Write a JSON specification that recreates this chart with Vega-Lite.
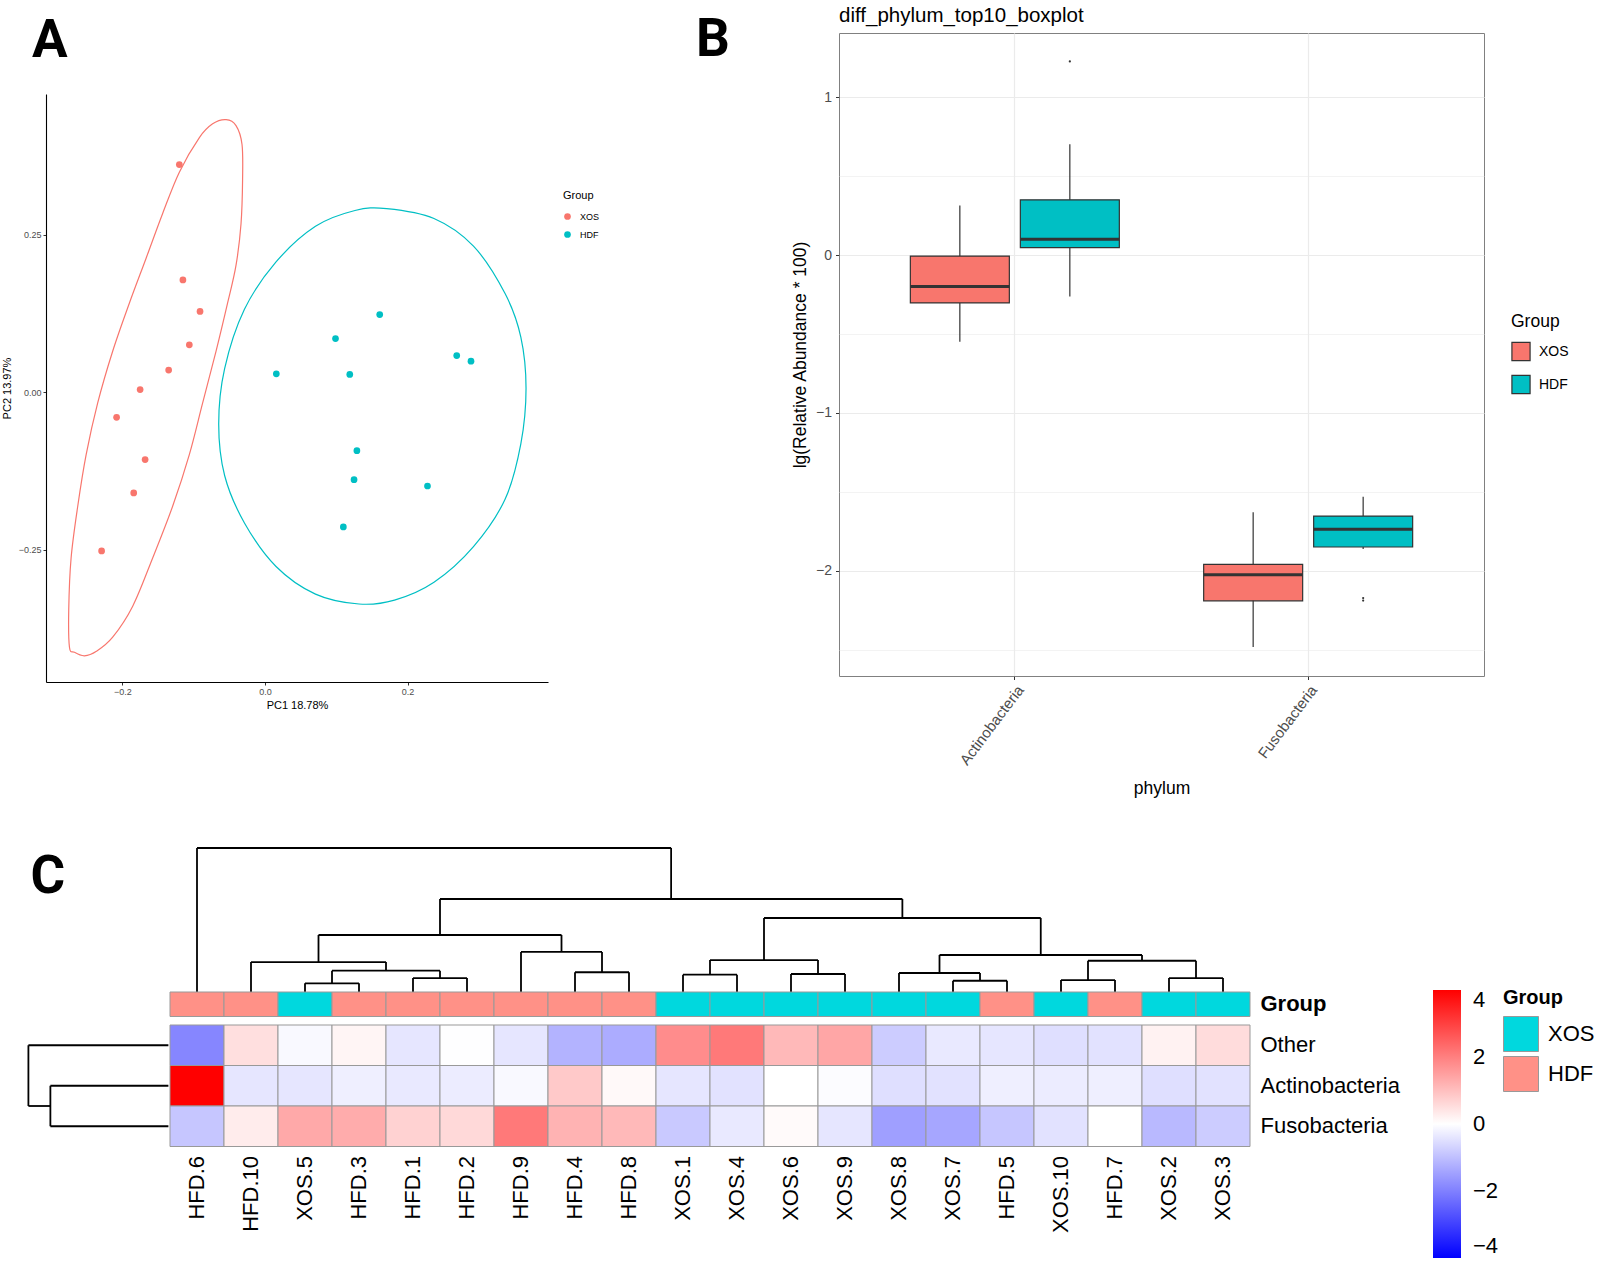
{
  "$schema": "https://vega.github.io/schema/vega-lite/v6.json",
  "background": "white",
  "padding": {"left": 1, "top": 5, "right": 0, "bottom": 0},
  "config": {"font": "Liberation Sans", "view": {"stroke": null}},
  "datasets": {
    "pcaPoints": [
      {"group": "XOS", "pc1": -0.120, "pc2": 0.361},
      {"group": "XOS", "pc1": -0.115, "pc2": 0.178},
      {"group": "XOS", "pc1": -0.091, "pc2": 0.128},
      {"group": "XOS", "pc1": -0.106, "pc2": 0.075},
      {"group": "XOS", "pc1": -0.135, "pc2": 0.035},
      {"group": "XOS", "pc1": -0.175, "pc2": 0.004},
      {"group": "XOS", "pc1": -0.208, "pc2": -0.040},
      {"group": "XOS", "pc1": -0.168, "pc2": -0.107},
      {"group": "XOS", "pc1": -0.184, "pc2": -0.160},
      {"group": "XOS", "pc1": -0.229, "pc2": -0.252},
      {"group": "HDF", "pc1": 0.161, "pc2": 0.123},
      {"group": "HDF", "pc1": 0.099, "pc2": 0.085},
      {"group": "HDF", "pc1": 0.016, "pc2": 0.029},
      {"group": "HDF", "pc1": 0.119, "pc2": 0.028},
      {"group": "HDF", "pc1": 0.269, "pc2": 0.058},
      {"group": "HDF", "pc1": 0.289, "pc2": 0.049},
      {"group": "HDF", "pc1": 0.129, "pc2": -0.093},
      {"group": "HDF", "pc1": 0.125, "pc2": -0.139},
      {"group": "HDF", "pc1": 0.228, "pc2": -0.149},
      {"group": "HDF", "pc1": 0.110, "pc2": -0.214}
    ],
    "ellipses": [
      {"group": "XOS", "k": 1, "pc1": -0.0545, "pc2": 0.4322},
      {"group": "XOS", "k": 2, "pc1": -0.0405, "pc2": 0.4229},
      {"group": "XOS", "k": 3, "pc1": -0.0321, "pc2": 0.3929},
      {"group": "XOS", "k": 4, "pc1": -0.0313, "pc2": 0.3381},
      {"group": "XOS", "k": 5, "pc1": -0.0335, "pc2": 0.2671},
      {"group": "XOS", "k": 6, "pc1": -0.0405, "pc2": 0.2014},
      {"group": "XOS", "k": 7, "pc1": -0.0523, "pc2": 0.1414},
      {"group": "XOS", "k": 8, "pc1": -0.0685, "pc2": 0.0649},
      {"group": "XOS", "k": 9, "pc1": -0.0873, "pc2": -0.0171},
      {"group": "XOS", "k": 10, "pc1": -0.1060, "pc2": -0.0992},
      {"group": "XOS", "k": 11, "pc1": -0.1294, "pc2": -0.1811},
      {"group": "XOS", "k": 12, "pc1": -0.1574, "pc2": -0.2632},
      {"group": "XOS", "k": 13, "pc1": -0.1854, "pc2": -0.3397},
      {"group": "XOS", "k": 14, "pc1": -0.2135, "pc2": -0.3889},
      {"group": "XOS", "k": 15, "pc1": -0.2363, "pc2": -0.4113},
      {"group": "XOS", "k": 16, "pc1": -0.2531, "pc2": -0.4184},
      {"group": "XOS", "k": 17, "pc1": -0.2671, "pc2": -0.4129},
      {"group": "XOS", "k": 18, "pc1": -0.2741, "pc2": -0.4048},
      {"group": "XOS", "k": 19, "pc1": -0.2751, "pc2": -0.3451},
      {"group": "XOS", "k": 20, "pc1": -0.2718, "pc2": -0.2632},
      {"group": "XOS", "k": 21, "pc1": -0.2625, "pc2": -0.1811},
      {"group": "XOS", "k": 22, "pc1": -0.2507, "pc2": -0.0992},
      {"group": "XOS", "k": 23, "pc1": -0.2345, "pc2": -0.0171},
      {"group": "XOS", "k": 24, "pc1": -0.2135, "pc2": 0.0649},
      {"group": "XOS", "k": 25, "pc1": -0.1900, "pc2": 0.1414},
      {"group": "XOS", "k": 26, "pc1": -0.1666, "pc2": 0.2125},
      {"group": "XOS", "k": 27, "pc1": -0.1434, "pc2": 0.2835},
      {"group": "XOS", "k": 28, "pc1": -0.1200, "pc2": 0.3490},
      {"group": "XOS", "k": 29, "pc1": -0.0919, "pc2": 0.4038},
      {"group": "XOS", "k": 30, "pc1": -0.0733, "pc2": 0.4256},
      {"group": "HDF", "k": 1, "pc1": 0.1707, "pc2": 0.2912},
      {"group": "HDF", "k": 2, "pc1": 0.2371, "pc2": 0.2755},
      {"group": "HDF", "k": 3, "pc1": 0.2925, "pc2": 0.2316},
      {"group": "HDF", "k": 4, "pc1": 0.3368, "pc2": 0.1563},
      {"group": "HDF", "k": 5, "pc1": 0.3589, "pc2": 0.0873},
      {"group": "HDF", "k": 6, "pc1": 0.3662, "pc2": 0.0057},
      {"group": "HDF", "k": 7, "pc1": 0.3589, "pc2": -0.0821},
      {"group": "HDF", "k": 8, "pc1": 0.3368, "pc2": -0.1700},
      {"group": "HDF", "k": 9, "pc1": 0.2925, "pc2": -0.2452},
      {"group": "HDF", "k": 10, "pc1": 0.2371, "pc2": -0.3017},
      {"group": "HDF", "k": 11, "pc1": 0.1818, "pc2": -0.3300},
      {"group": "HDF", "k": 12, "pc1": 0.1319, "pc2": -0.3362},
      {"group": "HDF", "k": 13, "pc1": 0.0709, "pc2": -0.3205},
      {"group": "HDF", "k": 14, "pc1": 0.0156, "pc2": -0.2767},
      {"group": "HDF", "k": 15, "pc1": -0.0287, "pc2": -0.2076},
      {"group": "HDF", "k": 16, "pc1": -0.0565, "pc2": -0.1323},
      {"group": "HDF", "k": 17, "pc1": -0.0648, "pc2": -0.0508},
      {"group": "HDF", "k": 18, "pc1": -0.0565, "pc2": 0.0371},
      {"group": "HDF", "k": 19, "pc1": -0.0287, "pc2": 0.1313},
      {"group": "HDF", "k": 20, "pc1": 0.0156, "pc2": 0.2065},
      {"group": "HDF", "k": 21, "pc1": 0.0709, "pc2": 0.2630},
      {"group": "HDF", "k": 22, "pc1": 0.1263, "pc2": 0.2881}
    ],
    "boxStats": [
      {"phylum": "Actinobacteria", "group": "XOS", "lo": -0.549, "q1": -0.303, "med": -0.199, "q3": -0.006, "hi": 0.315},
      {"phylum": "Actinobacteria", "group": "HDF", "lo": -0.262, "q1": 0.047, "med": 0.101, "q3": 0.350, "hi": 0.703},
      {"phylum": "Fusobacteria", "group": "XOS", "lo": -2.483, "q1": -2.190, "med": -2.025, "q3": -1.959, "hi": -1.628},
      {"phylum": "Fusobacteria", "group": "HDF", "lo": -1.862, "q1": -1.849, "med": -1.736, "q3": -1.653, "hi": -1.530}
    ],
    "boxOutliers": [
      {"phylum": "Actinobacteria", "group": "HDF", "value": 1.227},
      {"phylum": "Fusobacteria", "group": "HDF", "value": -2.172},
      {"phylum": "Fusobacteria", "group": "HDF", "value": -2.188}
    ],
    "heat": [
      {"sample": "HFD.6", "phylum": "Other", "value": -1.9},
      {"sample": "HFD.6", "phylum": "Actinobacteria", "value": 4.0},
      {"sample": "HFD.6", "phylum": "Fusobacteria", "value": -0.9},
      {"sample": "HFD.10", "phylum": "Other", "value": 0.5},
      {"sample": "HFD.10", "phylum": "Actinobacteria", "value": -0.4},
      {"sample": "HFD.10", "phylum": "Fusobacteria", "value": 0.3},
      {"sample": "XOS.5", "phylum": "Other", "value": -0.1},
      {"sample": "XOS.5", "phylum": "Actinobacteria", "value": -0.4},
      {"sample": "XOS.5", "phylum": "Fusobacteria", "value": 1.35},
      {"sample": "HFD.3", "phylum": "Other", "value": 0.15},
      {"sample": "HFD.3", "phylum": "Actinobacteria", "value": -0.25},
      {"sample": "HFD.3", "phylum": "Fusobacteria", "value": 1.3},
      {"sample": "HFD.1", "phylum": "Other", "value": -0.4},
      {"sample": "HFD.1", "phylum": "Actinobacteria", "value": -0.35},
      {"sample": "HFD.1", "phylum": "Fusobacteria", "value": 0.7},
      {"sample": "HFD.2", "phylum": "Other", "value": -0.02},
      {"sample": "HFD.2", "phylum": "Actinobacteria", "value": -0.3},
      {"sample": "HFD.2", "phylum": "Fusobacteria", "value": 0.6},
      {"sample": "HFD.9", "phylum": "Other", "value": -0.4},
      {"sample": "HFD.9", "phylum": "Actinobacteria", "value": -0.1},
      {"sample": "HFD.9", "phylum": "Fusobacteria", "value": 2.1},
      {"sample": "HFD.4", "phylum": "Other", "value": -1.2},
      {"sample": "HFD.4", "phylum": "Actinobacteria", "value": 0.85},
      {"sample": "HFD.4", "phylum": "Fusobacteria", "value": 1.2},
      {"sample": "HFD.8", "phylum": "Other", "value": -1.3},
      {"sample": "HFD.8", "phylum": "Actinobacteria", "value": 0.1},
      {"sample": "HFD.8", "phylum": "Fusobacteria", "value": 1.1},
      {"sample": "XOS.1", "phylum": "Other", "value": 1.8},
      {"sample": "XOS.1", "phylum": "Actinobacteria", "value": -0.4},
      {"sample": "XOS.1", "phylum": "Fusobacteria", "value": -0.85},
      {"sample": "XOS.4", "phylum": "Other", "value": 2.1},
      {"sample": "XOS.4", "phylum": "Actinobacteria", "value": -0.45},
      {"sample": "XOS.4", "phylum": "Fusobacteria", "value": -0.35},
      {"sample": "XOS.6", "phylum": "Other", "value": 1.1},
      {"sample": "XOS.6", "phylum": "Actinobacteria", "value": 0.0},
      {"sample": "XOS.6", "phylum": "Fusobacteria", "value": 0.08},
      {"sample": "XOS.9", "phylum": "Other", "value": 1.4},
      {"sample": "XOS.9", "phylum": "Actinobacteria", "value": -0.05},
      {"sample": "XOS.9", "phylum": "Fusobacteria", "value": -0.4},
      {"sample": "XOS.8", "phylum": "Other", "value": -0.8},
      {"sample": "XOS.8", "phylum": "Actinobacteria", "value": -0.5},
      {"sample": "XOS.8", "phylum": "Fusobacteria", "value": -1.5},
      {"sample": "XOS.7", "phylum": "Other", "value": -0.35},
      {"sample": "XOS.7", "phylum": "Actinobacteria", "value": -0.45},
      {"sample": "XOS.7", "phylum": "Fusobacteria", "value": -1.4},
      {"sample": "HFD.5", "phylum": "Other", "value": -0.4},
      {"sample": "HFD.5", "phylum": "Actinobacteria", "value": -0.25},
      {"sample": "HFD.5", "phylum": "Fusobacteria", "value": -0.9},
      {"sample": "XOS.10", "phylum": "Other", "value": -0.5},
      {"sample": "XOS.10", "phylum": "Actinobacteria", "value": -0.3},
      {"sample": "XOS.10", "phylum": "Fusobacteria", "value": -0.45},
      {"sample": "HFD.7", "phylum": "Other", "value": -0.45},
      {"sample": "HFD.7", "phylum": "Actinobacteria", "value": -0.25},
      {"sample": "HFD.7", "phylum": "Fusobacteria", "value": 0.0},
      {"sample": "XOS.2", "phylum": "Other", "value": 0.2},
      {"sample": "XOS.2", "phylum": "Actinobacteria", "value": -0.5},
      {"sample": "XOS.2", "phylum": "Fusobacteria", "value": -1.1},
      {"sample": "XOS.3", "phylum": "Other", "value": 0.55},
      {"sample": "XOS.3", "phylum": "Actinobacteria", "value": -0.45},
      {"sample": "XOS.3", "phylum": "Fusobacteria", "value": -0.8}
    ],
    "annot": [
      {"sample": "HFD.6", "group": "HDF", "row": "Group"},
      {"sample": "HFD.10", "group": "HDF", "row": "Group"},
      {"sample": "XOS.5", "group": "XOS", "row": "Group"},
      {"sample": "HFD.3", "group": "HDF", "row": "Group"},
      {"sample": "HFD.1", "group": "HDF", "row": "Group"},
      {"sample": "HFD.2", "group": "HDF", "row": "Group"},
      {"sample": "HFD.9", "group": "HDF", "row": "Group"},
      {"sample": "HFD.4", "group": "HDF", "row": "Group"},
      {"sample": "HFD.8", "group": "HDF", "row": "Group"},
      {"sample": "XOS.1", "group": "XOS", "row": "Group"},
      {"sample": "XOS.4", "group": "XOS", "row": "Group"},
      {"sample": "XOS.6", "group": "XOS", "row": "Group"},
      {"sample": "XOS.9", "group": "XOS", "row": "Group"},
      {"sample": "XOS.8", "group": "XOS", "row": "Group"},
      {"sample": "XOS.7", "group": "XOS", "row": "Group"},
      {"sample": "HFD.5", "group": "HDF", "row": "Group"},
      {"sample": "XOS.10", "group": "XOS", "row": "Group"},
      {"sample": "HFD.7", "group": "HDF", "row": "Group"},
      {"sample": "XOS.2", "group": "XOS", "row": "Group"},
      {"sample": "XOS.3", "group": "XOS", "row": "Group"}
    ],
    "colTree": [
      {"x0": 0.5, "x1": 9.28, "h0": 10, "h1": 10},
      {"x0": 0.5, "x1": 0.5, "h0": 0, "h1": 10},
      {"x0": 9.28, "x1": 9.28, "h0": 6.46, "h1": 10},
      {"x0": 5, "x1": 13.5625, "h0": 6.46, "h1": 6.46},
      {"x0": 5, "x1": 5, "h0": 3.96, "h1": 6.46},
      {"x0": 13.5625, "x1": 13.5625, "h0": 5.14, "h1": 6.46},
      {"x0": 2.75, "x1": 7.25, "h0": 3.96, "h1": 3.96},
      {"x0": 2.75, "x1": 2.75, "h0": 2.08, "h1": 3.96},
      {"x0": 7.25, "x1": 7.25, "h0": 2.78, "h1": 3.96},
      {"x0": 1.5, "x1": 4, "h0": 2.08, "h1": 2.08},
      {"x0": 1.5, "x1": 1.5, "h0": 0, "h1": 2.08},
      {"x0": 4, "x1": 4, "h0": 1.48, "h1": 2.08},
      {"x0": 3, "x1": 5, "h0": 1.48, "h1": 1.48},
      {"x0": 3, "x1": 3, "h0": 0.6, "h1": 1.48},
      {"x0": 5, "x1": 5, "h0": 0.97, "h1": 1.48},
      {"x0": 2.5, "x1": 3.5, "h0": 0.6, "h1": 0.6},
      {"x0": 2.5, "x1": 2.5, "h0": 0, "h1": 0.6},
      {"x0": 3.5, "x1": 3.5, "h0": 0, "h1": 0.6},
      {"x0": 4.5, "x1": 5.5, "h0": 0.97, "h1": 0.97},
      {"x0": 4.5, "x1": 4.5, "h0": 0, "h1": 0.97},
      {"x0": 5.5, "x1": 5.5, "h0": 0, "h1": 0.97},
      {"x0": 6.5, "x1": 8, "h0": 2.78, "h1": 2.78},
      {"x0": 6.5, "x1": 6.5, "h0": 0, "h1": 2.78},
      {"x0": 8, "x1": 8, "h0": 1.37, "h1": 2.78},
      {"x0": 7.5, "x1": 8.5, "h0": 1.37, "h1": 1.37},
      {"x0": 7.5, "x1": 7.5, "h0": 0, "h1": 1.37},
      {"x0": 8.5, "x1": 8.5, "h0": 0, "h1": 1.37},
      {"x0": 11, "x1": 16.125, "h0": 5.14, "h1": 5.14},
      {"x0": 11, "x1": 11, "h0": 2.22, "h1": 5.14},
      {"x0": 16.125, "x1": 16.125, "h0": 2.57, "h1": 5.14},
      {"x0": 10, "x1": 12, "h0": 2.22, "h1": 2.22},
      {"x0": 10, "x1": 10, "h0": 1.2, "h1": 2.22},
      {"x0": 12, "x1": 12, "h0": 1.25, "h1": 2.22},
      {"x0": 9.5, "x1": 10.5, "h0": 1.2, "h1": 1.2},
      {"x0": 9.5, "x1": 9.5, "h0": 0, "h1": 1.2},
      {"x0": 10.5, "x1": 10.5, "h0": 0, "h1": 1.2},
      {"x0": 11.5, "x1": 12.5, "h0": 1.25, "h1": 1.25},
      {"x0": 11.5, "x1": 11.5, "h0": 0, "h1": 1.25},
      {"x0": 12.5, "x1": 12.5, "h0": 0, "h1": 1.25},
      {"x0": 14.25, "x1": 18, "h0": 2.57, "h1": 2.57},
      {"x0": 14.25, "x1": 14.25, "h0": 1.32, "h1": 2.57},
      {"x0": 18, "x1": 18, "h0": 2.17, "h1": 2.57},
      {"x0": 13.5, "x1": 15, "h0": 1.32, "h1": 1.32},
      {"x0": 13.5, "x1": 13.5, "h0": 0, "h1": 1.32},
      {"x0": 15, "x1": 15, "h0": 0.78, "h1": 1.32},
      {"x0": 14.5, "x1": 15.5, "h0": 0.78, "h1": 0.78},
      {"x0": 14.5, "x1": 14.5, "h0": 0, "h1": 0.78},
      {"x0": 15.5, "x1": 15.5, "h0": 0, "h1": 0.78},
      {"x0": 17, "x1": 19, "h0": 2.17, "h1": 2.17},
      {"x0": 17, "x1": 17, "h0": 0.83, "h1": 2.17},
      {"x0": 19, "x1": 19, "h0": 0.97, "h1": 2.17},
      {"x0": 16.5, "x1": 17.5, "h0": 0.83, "h1": 0.83},
      {"x0": 16.5, "x1": 16.5, "h0": 0, "h1": 0.83},
      {"x0": 17.5, "x1": 17.5, "h0": 0, "h1": 0.83},
      {"x0": 18.5, "x1": 19.5, "h0": 0.97, "h1": 0.97},
      {"x0": 18.5, "x1": 18.5, "h0": 0, "h1": 0.97},
      {"x0": 19.5, "x1": 19.5, "h0": 0, "h1": 0.97}
    ],
    "rowTree": [
      {"h0": 0, "h1": 10, "y0": 0.5, "y1": 0.5},
      {"h0": 0, "h1": 8.43, "y0": 1.5, "y1": 1.5},
      {"h0": 0, "h1": 8.43, "y0": 2.5, "y1": 2.5},
      {"h0": 8.43, "h1": 8.43, "y0": 1.5, "y1": 2.5},
      {"h0": 8.43, "h1": 10, "y0": 2, "y1": 2},
      {"h0": 10, "h1": 10, "y0": 0.5, "y1": 2}
    ]
  },
  "spacing": 49,
  "resolve": {"scale": {"color": "independent", "fill": "independent"}},
  "vconcat": [
    {
      "hconcat": [
        {
          "vconcat": [
            {
              "width": 502, "height": 1, "data": {"values": []}, "mark": "point",
              "title": {"text": "A", "orient": "bottom", "anchor": "start", "frame": "group", "font": "Roboto", "fontSize": 53, "fontWeight": "bold", "baseline": "alphabetic", "offset": 23, "dx": -14, "color": "#000000"}
            },
            {
              "width": 502,
              "height": 588,
              "resolve": {"legend": {"color": "independent"}},
              "layer": [
                {
                  "data": {"name": "pcaPoints"},
                  "mark": {"type": "circle", "size": 45, "opacity": 1},
                  "encoding": {
                    "x": {"field": "pc1", "type": "quantitative", "scale": {"domain": [-0.307, 0.397], "nice": false, "zero": false},
                      "axis": {"title": "PC1 18.78%", "values": [-0.2, 0, 0.2], "format": ".1f", "grid": false, "domainColor": "#000000", "domainWidth": 1.1, "tickColor": "#333333", "tickSize": 3, "labelFontSize": 9, "labelColor": "#4D4D4D", "labelPadding": 2, "titleFontSize": 11, "titleFontWeight": "normal", "titleColor": "#000000", "titlePadding": 3}},
                    "y": {"field": "pc2", "type": "quantitative", "scale": {"domain": [-0.46, 0.473], "nice": false, "zero": false},
                      "axis": {"title": "PC2 13.97%", "values": [-0.25, 0, 0.25], "format": ".2f", "grid": false, "domainColor": "#000000", "domainWidth": 1.1, "tickColor": "#333333", "tickSize": 3, "labelFontSize": 9, "labelColor": "#4D4D4D", "labelPadding": 2, "titleFontSize": 11, "titleFontWeight": "normal", "titleColor": "#000000", "titlePadding": 6}},
                    "color": {"field": "group", "type": "nominal", "scale": {"domain": ["XOS", "HDF"], "range": ["#F8766D", "#00BFC4"]},
                      "legend": {"title": "Group", "orient": "none", "legendX": 517, "legendY": 96, "titleFontSize": 11, "titleFontWeight": "normal", "titleColor": "#000000", "labelFontSize": 9, "labelColor": "#000000", "symbolType": "circle", "symbolSize": 45, "rowPadding": 8, "titlePadding": 11, "labelOffset": 8}}
                  }
                },
                {
                  "data": {"name": "ellipses"},
                  "mark": {"type": "line", "interpolate": "cardinal-closed", "strokeWidth": 1.2},
                  "encoding": {
                    "x": {"field": "pc1", "type": "quantitative"},
                    "y": {"field": "pc2", "type": "quantitative"},
                    "color": {"field": "group", "type": "nominal", "legend": null},
                    "order": {"field": "k", "type": "quantitative"}
                  }
                }
              ]
            }
          ],
          "spacing": 26,
          "resolve": {"scale": {"color": "independent", "fill": "independent"}}
        },
        {
          "hconcat": [
            {
              "width": 40, "height": 1, "data": {"values": []}, "mark": "point",
              "title": {"text": "B", "orient": "bottom", "anchor": "start", "frame": "group", "font": "Roboto", "fontSize": 53, "fontWeight": "bold", "baseline": "alphabetic", "offset": 22, "color": "#000000"}
            },
            {
              "width": 645,
              "height": 643,
              "view": {"stroke": "#808080", "strokeWidth": 1},
              "title": {"text": "diff_phylum_top10_boxplot", "anchor": "start", "frame": "group", "fontSize": 20.5, "fontWeight": "normal", "baseline": "alphabetic", "offset": -9, "color": "#000000"},
              "data": {"name": "boxStats"},
              "encoding": {
                "x": {"field": "phylum", "type": "nominal", "sort": ["Actinobacteria", "Fusobacteria"], "scale": {"paddingInner": 0.25, "paddingOuter": 0.2245},
                  "axis": {"title": "phylum", "bandPosition": 0.5, "labelAngle": -53, "labelAlign": "right", "labelBaseline": "top", "labelFontSize": 15, "labelColor": "#4D4D4D", "tickColor": "#333333", "tickSize": 3.5, "domain": false, "grid": true, "gridColor": "#EBEBEB", "gridWidth": 1.2, "labelPadding": 3, "titleFontSize": 17.5, "titleFontWeight": "normal", "titleColor": "#000000", "titlePadding": 12}},
                "xOffset": {"field": "group", "type": "nominal", "sort": ["XOS", "HDF"], "scale": {"paddingInner": 0.1, "paddingOuter": 0.05}}
              },
              "layer": [
                {
                  "mark": {"type": "rule", "color": "#333333", "strokeWidth": 1.2},
                  "encoding": {
                    "y": {"field": "lo", "type": "quantitative", "scale": {"domain": [-2.666, 1.407], "nice": false, "zero": false},
                      "axis": {"title": "lg(Relative Abundance * 100)", "values": [-2.5, -2, -1.5, -1, -0.5, 0, 0.5, 1], "format": ".0f",
                        "labelExpr": "datum.value % 1 === 0 ? datum.label : ''",
                        "grid": true, "gridColor": "#EBEBEB",
                        "gridWidth": {"condition": {"test": "datum.value % 1 !== 0", "value": 0.6}, "value": 1.2},
                        "tickOpacity": {"condition": {"test": "datum.value % 1 !== 0", "value": 0}, "value": 1},
                        "tickColor": "#333333", "tickSize": 3.5, "domain": false, "labelFontSize": 14, "labelColor": "#4D4D4D", "labelPadding": 4,
                        "titleFontSize": 17.5, "titleFontWeight": "normal", "titleColor": "#000000", "titlePadding": 6}},
                    "y2": {"field": "hi"}
                  }
                },
                {
                  "mark": {"type": "rect", "stroke": "#333333", "strokeWidth": 1.2},
                  "encoding": {
                    "y": {"field": "q1", "type": "quantitative"},
                    "y2": {"field": "q3"},
                    "fill": {"field": "group", "type": "nominal", "scale": {"domain": ["XOS", "HDF"], "range": ["#F8766D", "#00BFC4"]},
                      "legend": {"title": "Group", "orient": "none", "legendX": 672, "legendY": 280, "titleFontSize": 17.5, "titleFontWeight": "normal", "titleColor": "#000000", "labelFontSize": 14, "labelColor": "#000000", "symbolType": "square", "symbolSize": 330, "symbolStrokeColor": "#333333", "symbolStrokeWidth": 1.2, "rowPadding": 9, "titlePadding": 11, "labelOffset": 8}}
                  }
                },
                {
                  "mark": {"type": "rect", "fill": "transparent", "stroke": "#333333", "strokeWidth": 3},
                  "encoding": {
                    "y": {"field": "med", "type": "quantitative"},
                    "y2": {"field": "med"}
                  }
                },
                {
                  "data": {"name": "boxOutliers"},
                  "mark": {"type": "circle", "size": 5, "color": "#333333", "opacity": 1},
                  "encoding": {
                    "y": {"field": "value", "type": "quantitative"}
                  }
                }
              ]
            }
          ],
          "spacing": 55,
          "resolve": {"scale": {"color": "independent", "fill": "independent"}}
        }
      ],
      "spacing": 96,
      "resolve": {"scale": {"color": "independent", "fill": "independent"}}
    },
    {
      "columns": 2,
      "spacing": {"row": 0, "column": 1},
      "bounds": "flush",
      "align": "each",
      "resolve": {"scale": {"color": "independent", "fill": "independent"}},
      "concat": [
        {
          "width": 122.4, "height": 1, "data": {"values": []}, "mark": "point",
          "title": {"text": "C", "orient": "bottom", "anchor": "start", "frame": "group", "font": "Roboto", "fontSize": 53, "fontWeight": "bold", "baseline": "alphabetic", "offset": 44, "dx": -15.5, "color": "#000000"}
        },
        {
          "width": 1080,
          "height": 144,
          "data": {"name": "colTree"},
          "mark": {"type": "rule", "color": "#000000", "strokeWidth": 1.8},
          "encoding": {
            "x": {"field": "x0", "type": "quantitative", "scale": {"domain": [0, 20], "nice": false, "zero": false}, "axis": null},
            "x2": {"field": "x1"},
            "y": {"field": "h0", "type": "quantitative", "scale": {"domain": [0, 10], "nice": false, "zero": false}, "axis": null},
            "y2": {"field": "h1"}
          }
        },
        {"width": 122.4, "height": 1, "data": {"values": []}, "mark": "point"},
        {
          "width": 1080,
          "height": 33,
          "data": {"name": "annot"},
          "mark": {"type": "rect", "stroke": "#999999", "strokeWidth": 1},
          "encoding": {
            "x": {"field": "sample", "type": "nominal", "sort": ["HFD.6", "HFD.10", "XOS.5", "HFD.3", "HFD.1", "HFD.2", "HFD.9", "HFD.4", "HFD.8", "XOS.1", "XOS.4", "XOS.6", "XOS.9", "XOS.8", "XOS.7", "HFD.5", "XOS.10", "HFD.7", "XOS.2", "XOS.3"], "scale": {"paddingInner": 0, "paddingOuter": 0}, "axis": null},
            "y": {"field": "row", "type": "nominal", "scale": {"paddingInner": 0, "paddingOuter": 0.1735, "align": 0},
              "axis": {"orient": "right", "title": null, "domain": false, "ticks": false, "labelFontSize": 22, "labelFontWeight": "bold", "labelColor": "#000000", "labelPadding": 10}},
            "fill": {"field": "group", "type": "nominal", "scale": {"domain": ["XOS", "HDF"], "range": ["#00D8DE", "#FF9187"]},
              "legend": {"title": "Group", "orient": "none", "legendX": 1333, "legendY": -4, "titleFontSize": 20, "titleFontWeight": "bold", "titleColor": "#000000", "labelFontSize": 22, "labelColor": "#000000", "symbolType": "square", "symbolSize": 1225, "symbolStrokeColor": "#999999", "symbolStrokeWidth": 1, "rowPadding": 0, "labelOffset": 9, "titlePadding": 8}}
          }
        },
        {
          "width": 122.4,
          "height": 121.5,
          "data": {"name": "rowTree"},
          "mark": {"type": "rule", "color": "#000000", "strokeWidth": 1.8},
          "encoding": {
            "x": {"field": "h0", "type": "quantitative", "scale": {"domain": [0, 8.743], "reverse": true, "nice": false, "zero": false}, "axis": null},
            "x2": {"field": "h1"},
            "y": {"field": "y0", "type": "quantitative", "scale": {"domain": [0, 3], "reverse": true, "nice": false, "zero": false}, "axis": null},
            "y2": {"field": "y1"}
          }
        },
        {
          "width": 1080,
          "height": 121.5,
          "data": {"name": "heat"},
          "mark": {"type": "rect", "stroke": "#999999", "strokeWidth": 1},
          "encoding": {
            "x": {"field": "sample", "type": "nominal", "sort": ["HFD.6", "HFD.10", "XOS.5", "HFD.3", "HFD.1", "HFD.2", "HFD.9", "HFD.4", "HFD.8", "XOS.1", "XOS.4", "XOS.6", "XOS.9", "XOS.8", "XOS.7", "HFD.5", "XOS.10", "HFD.7", "XOS.2", "XOS.3"], "scale": {"paddingInner": 0, "paddingOuter": 0},
              "axis": {"orient": "bottom", "title": null, "domain": false, "ticks": false, "labelAngle": -90, "labelAlign": "right", "labelBaseline": "middle", "labelFontSize": 22, "labelColor": "#000000", "labelPadding": 9}},
            "y": {"field": "phylum", "type": "nominal", "sort": ["Other", "Actinobacteria", "Fusobacteria"], "scale": {"paddingInner": 0, "paddingOuter": 0},
              "axis": {"orient": "right", "title": null, "domain": false, "ticks": false, "labelFontSize": 22, "labelColor": "#000000", "labelPadding": 10}},
            "color": {"field": "value", "type": "quantitative", "scale": {"domain": [-4, 0, 4], "range": ["#0000FF", "#FFFFFF", "#FF0000"], "interpolate": "rgb"},
              "legend": {"title": null, "orient": "none", "legendX": 1263, "legendY": -35, "direction": "vertical", "gradientLength": 268, "gradientThickness": 28, "gradientStrokeWidth": 0, "values": [-4, -2, 0, 2, 4], "format": "d", "labelFontSize": 22, "labelColor": "#000000", "labelOffset": 12, "labelBaseline": "middle"}}
          }
        }
      ]
    }
  ]
}
